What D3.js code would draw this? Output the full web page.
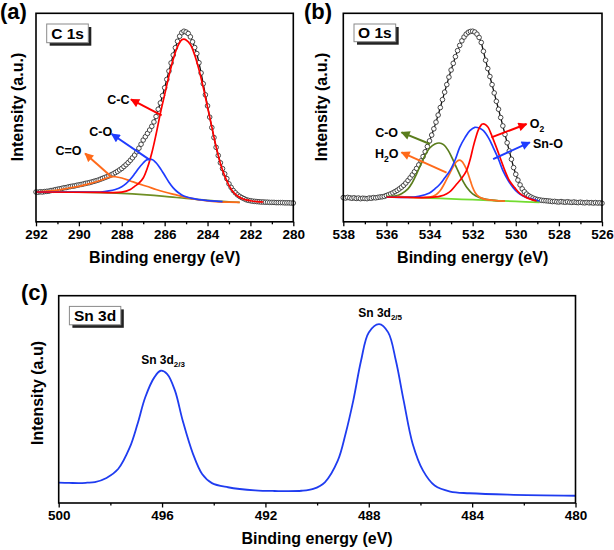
<!DOCTYPE html>
<html><head><meta charset="utf-8">
<script src="https://cdn.jsdelivr.net/npm/d3@7"></script>
<style>
body{margin:0;background:#fff}
svg text{font-family:"Liberation Sans",Arial,sans-serif;font-weight:bold;fill:#000}
</style>
</head><body>
<svg id="chart" width="614" height="550"></svg>
<script>
// ---------------- DATA ----------------
// Panel (a) C 1s: measured points, uniform 0.1 eV sampling from 292.0 down to 280.0
const c1sStart = 292.0, c1sStep = -0.1;
const c1sIntensity = [
14.3,14.2,14.4,14.3,14.5,14.6,14.7,15.0,15.1,15.4,15.6,
15.8,16.0,16.3,16.4,16.7,16.9,17.1,17.2,17.5,17.7,
17.9,18.1,18.4,18.6,18.8,19.1,19.4,19.7,20.0,20.4,
20.8,21.2,21.6,22.0,22.5,23.0,23.6,24.2,24.9,25.6,
26.5,27.4,28.4,29.5,30.7,32.0,33.6,35.3,37.2,39.2,
40.8,42.4,44.0,45.8,47.9,50.5,54.0,57.0,60.5,64.3,
68.3,72.3,76.2,80.0,83.5,86.6,89.0,90.7,91.4,91.0,
90.3,88.7,86.3,83.6,80.7,76.3,71.4,66.2,60.9,55.6,
50.2,45.2,40.4,35.7,31.8,28.3,25.5,23.0,20.7,18.2,
16.5,15.0,13.9,12.9,12.2,11.6,11.1,10.6,10.3,10.1,
9.9,9.8,9.7,9.6,9.5,9.5,9.4,9.4,9.3,9.3,
9.3,9.2,9.2,9.2,9.2,9.1,9.1,9.1,9.0,9.0
];
const c1sCC = [[292,14.3],[289,14.1],[288,14.2],[287.6,15.5],[287.4,17],[287.2,18.5],[287,21],[286.8,26],[286.6,33],[286.4,42],[286.2,52],[286,61],[285.8,70],[285.6,78],[285.4,84],[285.2,87.3],[285.1,87.6],[285,87.2],[284.8,85],[284.6,80],[284.4,73],[284.2,64.5],[284,55],[283.8,45.5],[283.6,36],[283.4,28],[283.2,22],[283,17.5],[282.8,14.3],[282.6,12.4],[282.4,11.2],[282.2,10.5],[282,10.1],[281.7,9.7],[281.4,9.5]];
const c1sCO = [[292,14.3],[290,14.2],[289,14.3],[288.6,14.8],[288.3,15.5],[288,16.8],[287.8,18.3],[287.6,20.4],[287.4,23],[287.2,25.8],[287,28.2],[286.85,29.6],[286.7,30.1],[286.55,29.7],[286.4,28.3],[286.2,25.6],[286,22.3],[285.8,19],[285.6,16.3],[285.4,14.3],[285.2,12.9],[285,12],[284.7,11.2],[284.4,10.6],[284,10.2],[283.6,9.9],[283.3,9.7]];
const c1sCdO = [[292,14.3],[291,15.2],[290.5,16.1],[290,17.0],[289.5,18.3],[289,19.8],[288.8,20.6],[288.55,21.5],[288.3,21.6],[288,21.0],[287.6,19.6],[287.2,18.2],[286.8,16.9],[286.4,15.5],[286,14.3],[285.5,13],[285,11.7],[284.5,10.7],[284,10.0],[283.5,9.6],[283,9.4],[282.5,9.3]];
const c1sBg = [[292,14.3],[290,14.2],[289,14.0],[288,13.6],[287,13.0],[286,12.2],[285,11.2],[284,10.3],[283,9.6],[282.5,9.3]];

// Panel (b) O 1s: measured points, uniform 0.1 eV sampling from 538.0 down to 526.0
const o1sStart = 538.0, o1sStep = -0.1;
const o1sIntensity = [
11.6,11.4,11.7,11.5,11.3,11.5,11.2,11.4,11.1,11.3,11.2,
11.1,11.4,11.3,11.6,11.5,11.7,11.9,12.0,12.2,12.6,
13.0,13.4,13.9,14.5,15.1,15.8,16.6,17.5,18.6,19.8,
21.1,22.5,24.0,25.6,27.3,29.2,31.3,33.6,36.1,38.8,
41.6,44.6,47.8,51.2,54.8,58.6,62.2,65.8,69.4,72.8,
76.0,79.2,82.1,84.6,86.8,88.6,90.0,90.9,91.3,91.4,
91.0,90.0,88.4,86.0,81.8,77.5,73.5,69.7,65.8,61.8,
57.8,54.0,50.0,46.0,41.9,37.9,34.0,30.0,26.0,22.8,
20.0,17.7,15.8,14.4,13.3,12.5,11.9,11.4,11.0,10.7,
10.5,10.3,10.2,10.1,10.0,9.9,9.7,9.8,9.6,9.5,
9.7,9.5,9.4,9.6,9.4,9.3,9.5,9.3,9.2,9.4,
9.2,9.1,9.3,9.1,9.2,9.0,9.2,9.0,9.1,8.9
];
const o1sO2 = [[536,11.9],[535,11.7],[534,11.7],[533.5,12.3],[533.2,13.5],[533,15],[532.75,18],[532.5,21],[532.29,24.4],[532.1,30.5],[531.98,35.7],[531.85,40.5],[531.75,43.7],[531.6,46.5],[531.54,46.9],[531.4,46.6],[531.28,45.3],[531.1,41],[530.9,35.7],[530.7,30],[530.5,24.4],[530.3,19.8],[530.05,16.4],[529.8,13.5],[529.5,11.6],[529.04,10]];
const o1sSnO = [[536,11.9],[535,11.7],[534.5,12.2],[534,13.8],[533.75,15.8],[533.52,18],[533.3,21],[533.06,24.4],[532.8,30],[532.6,35.7],[532.35,40.5],[532.13,43.7],[531.9,45.3],[531.7,45],[531.5,43.7],[531.25,40],[531.05,35.7],[530.8,30],[530.59,24.4],[530.35,19.8],[530.12,16.4],[529.9,14],[529.66,12.4],[529.4,11.3],[529.2,10.8],[528.9,10]];
const o1sH2O = [[535.5,12.2],[534.5,11.6],[534,11.8],[533.7,13],[533.5,15],[533.3,18.5],[533.1,22.5],[532.9,26.5],[532.75,28.8],[532.63,29.6],[532.5,29],[532.3,25.5],[532.1,19.5],[531.98,16],[531.8,12.8],[531.5,11],[531,10.3],[530.5,9.9]];
const o1sCO = [[536,11.9],[535.6,12.3],[535.3,13.5],[535,15.8],[534.8,18.8],[534.6,23],[534.45,26.5],[534.2,32],[533.98,35.5],[533.75,37.3],[533.55,37.8],[533.35,37],[533.15,34.5],[532.95,30.5],[532.75,26],[532.5,20.5],[532.25,16.2],[532,13.4],[531.7,11.7],[531.36,10.8],[531,10.3],[530.5,9.9]];
const o1sBg = [[536,12.2],[535,11.8],[534,11.4],[533,11.0],[532,10.6],[531,10.2],[530,9.8],[528.9,9.3]];

// Panel (c) Sn 3d spectrum
const sn3d = [[500,9.8],[499.6,9.7],[499.2,9.6],[498.9,9.8],[498.6,10.1],[498.15,12.1],[497.7,16.4],[497.25,26.8],[496.95,38.1],[496.65,51],[496.3,60.6],[496.05,63.8],[495.8,62.2],[495.5,54.2],[495.2,39.7],[494.8,23.6],[494.45,14],[494.07,9.6],[493.45,7.6],[492.4,6.1],[491.65,5.8],[490.6,5.9],[490.15,6.8],[489.7,10],[489.2,20.4],[488.9,33.3],[488.6,49.4],[488.3,68.6],[488.0,82.3],[487.6,86.3],[487.25,82.3],[486.95,68.6],[486.65,49.4],[486.3,28.5],[485.9,15.6],[485.45,8.4],[484.85,5.5],[484.1,4.7],[482.6,4.0],[480,3.5]];

// Tick labels
const ticksA = [292,290,288,286,284,282,280], minorA = [291,289,287,285,283,281];
const ticksB = [538,536,534,532,530,528,526], minorB = [537,535,533,531,529,527];
const ticksC = [500,496,492,488,484,480], minorC = [498,494,490,486,482];

// Annotations (data units)
const annA = [
  {text:["C-C"], color:"#ff0000", from:[286.14,51.0], to:[287.57,58.7], at:[288.16,58.5], anchor:"middle"},
  {text:["C-O"], color:"#1f3cff", from:[286.68,29.6], to:[288.47,42.1], at:[288.98,43.1], anchor:"middle"},
  {text:["C=O"], color:"#ff6a1a", from:[288.47,21.5], to:[289.71,32.8], at:[290.48,34.1], anchor:"middle"}
];
const annB = [
  {text:["O","2"], color:"#ff0000", from:[531.13,40.5], to:[529.5,46.9], at:[529.35,46.9], anchor:"start"},
  {text:["Sn-O"], color:"#1f3cff", from:[531.05,30.1], to:[529.35,38.1], at:[529.2,37.6], anchor:"start"},
  {text:["C-O"], color:"#5a7d1c", from:[533.98,37.3], to:[535.3,42.9], at:[535.99,42.9], anchor:"middle"},
  {text:["H","2","O"], color:"#ff6a1a", from:[533.21,23.6], to:[535.3,33.3], at:[535.99,32.5], anchor:"middle"}
];

// ---------------- DRAW ----------------
const svg = d3.select("#chart");
const defs = svg.append("defs");
function marker(id,color){
  defs.append("marker").attr("id",id).attr("viewBox","0 0 10 10").attr("refX",9).attr("refY",5)
    .attr("markerUnits","userSpaceOnUse").attr("markerWidth",10).attr("markerHeight",9).attr("orient","auto")
    .append("path").attr("d","M0,0L10,5L0,10Z").attr("fill",color);
}

function panel(cfg){
  const x = d3.scaleLinear().domain(cfg.xDomain).range([cfg.left,cfg.right]);
  const y = d3.scaleLinear().domain([0,100]).range([cfg.bottom,cfg.top]);
  const g = svg.append("g");
  const line = d3.line().x(d=>x(d[0])).y(d=>y(d[1]));
  const smooth = d3.line().x(d=>x(d[0])).y(d=>y(d[1])).curve(d3.curveCatmullRom.alpha(0.5));

  // axes
  const axMinor = d3.axisBottom(x).tickValues(cfg.minor).tickSize(2.5).tickFormat("");
  const axMajor = d3.axisBottom(x).tickValues(cfg.major).tickSize(4.5).tickPadding(3).tickFormat(d=>d);
  [axMinor,axMajor].forEach(ax=>{
    const a = g.append("g").attr("transform",`translate(0,${cfg.bottom})`).call(ax);
    a.select(".domain").remove();
    a.selectAll("line").attr("stroke","#000").attr("stroke-width",1.3);
    a.selectAll("text").attr("font-size",13.5).attr("font-family",null).style("font-family","'Liberation Sans',Arial,sans-serif").attr("fill","#000");
    a.attr("font-family",null).attr("font-size",null);
  });

  // measured data
  if(cfg.points){
    g.append("path").datum(cfg.points).attr("d",line).attr("fill","none").attr("stroke","#111").attr("stroke-width",1.3);
    g.selectAll("circle.pt").data(cfg.points).enter().append("circle").attr("class","pt")
      .attr("cx",d=>x(d[0])).attr("cy",d=>y(d[1])).attr("r",2.3)
      .attr("fill","#fff").attr("stroke","#333").attr("stroke-width",0.9);
  }
  // components
  (cfg.comps||[]).forEach(c=>{
    g.append("path").datum(c.data).attr("d",smooth).attr("fill","none").attr("stroke",c.color).attr("stroke-width",c.w||1.7);
  });
  // annotations
  (cfg.ann||[]).forEach((a,i)=>{
    const id = cfg.id+"m"+i;
    marker(id,a.color);
    g.append("line").attr("x1",x(a.from[0])).attr("y1",y(a.from[1])).attr("x2",x(a.to[0])).attr("y2",y(a.to[1]))
      .attr("stroke",a.color).attr("stroke-width",2).attr("marker-end",`url(#${id})`);
    const t = g.append("text").attr("x",x(a.at[0])).attr("y",y(a.at[1])).attr("dy","0.35em")
      .attr("text-anchor",a.anchor).attr("font-size",12.5);
    a.text.forEach((s,k)=>{
      const sub = /^\d$/.test(s);
      const ts = t.append("tspan").text(s);
      if(sub){ ts.attr("font-size",8.5).attr("dy",3.5); }
      else if(k>0 && /^\d$/.test(a.text[k-1])){ ts.attr("dy",-3.5); }
    });
  });
  // peak labels (c)
  (cfg.peaks||[]).forEach(p=>{
    const t = g.append("text").attr("x",x(p.at[0])).attr("y",y(p.at[1])).attr("text-anchor","middle").attr("font-size",12);
    t.append("tspan").text(p.main);
    t.append("tspan").text(p.sub).attr("font-size",8).attr("dy",3);
  });

  // frame
  g.append("rect").attr("x",cfg.left).attr("y",cfg.top).attr("width",cfg.right-cfg.left).attr("height",cfg.bottom-cfg.top)
    .attr("fill","none").attr("stroke","#000").attr("stroke-width",1.6);

  // boxed label
  const bx = cfg.left+10.7, by = cfg.top+10.7;
  g.append("rect").attr("x",bx+3).attr("y",by+3).attr("width",cfg.boxW).attr("height",cfg.boxH).attr("fill","#222");
  g.append("rect").attr("x",bx).attr("y",by).attr("width",cfg.boxW).attr("height",cfg.boxH).attr("fill","#fff").attr("stroke","#8a8a8a").attr("stroke-width",1);
  g.append("text").attr("x",bx+cfg.boxW/2).attr("y",by+cfg.boxH/2).attr("dy","0.36em").attr("text-anchor","middle")
    .attr("font-size",15.5).text(cfg.box);

  // titles
  g.append("text").attr("x",(cfg.left+cfg.right)/2).attr("y",cfg.xTitleY).attr("text-anchor","middle").attr("font-size",16).text("Binding energy (eV)");
  g.append("text").attr("transform",`translate(${cfg.yTitleX},${cfg.yTitleY}) rotate(-90)`).attr("dy","0.35em")
    .attr("text-anchor","middle").attr("font-size",16).text(cfg.yTitle);
  g.append("text").attr("x",cfg.labX).attr("y",cfg.labY).attr("font-size",22).text(cfg.label);
}

const ptsA = c1sIntensity.map((v,i)=>[c1sStart+i*c1sStep, v]);
const ptsB = o1sIntensity.map((v,i)=>[o1sStart+i*o1sStep, v]);

panel({id:"a", left:36, right:293.3, top:13.3, bottom:221.8, xDomain:[292,280], major:ticksA, minor:minorA,
  points:ptsA,
  comps:[{data:c1sBg,color:"#6f8f25"},{data:c1sCdO,color:"#ff6a1a"},{data:c1sCO,color:"#1f3cff"},{data:c1sCC,color:"#ff0000"}],
  ann:annA, box:"C 1s", boxW:41.6, boxH:18.7,
  xTitleY:263, yTitle:"Intensity (a.u.)", yTitleX:17, yTitleY:107, label:"(a)", labX:0, labY:19});

panel({id:"b", left:343.3, right:602, top:13.3, bottom:221.8, xDomain:[538,526], major:ticksB, minor:minorB,
  points:ptsB,
  comps:[{data:o1sBg,color:"#72dc30"},{data:o1sCO,color:"#5a7d1c"},{data:o1sH2O,color:"#ff7020"},{data:o1sSnO,color:"#1f3cff"},{data:o1sO2,color:"#ff0000"}],
  ann:annB, box:"O 1s", boxW:41.7, boxH:17.7,
  xTitleY:263, yTitle:"Intensity (a.u.)", yTitleX:321.7, yTitleY:107, label:"(b)", labX:304, labY:19});

panel({id:"c", left:58.7, right:575.5, top:295.7, bottom:503, xDomain:[500,480], major:ticksC, minor:minorC,
  comps:[{data:sn3d,color:"#1f3cf0",w:1.8}],
  peaks:[{main:"Sn 3d",sub:"2/3",at:[495.96,67]},{main:"Sn 3d",sub:"2/5",at:[487.56,89.9]}],
  box:"Sn 3d", boxW:51.4, boxH:18.4,
  xTitleY:543.5, yTitle:"Intensity (a.u)", yTitleX:37.6, yTitleY:393, label:"(c)", labX:21, labY:300});
</script>
</body></html>
